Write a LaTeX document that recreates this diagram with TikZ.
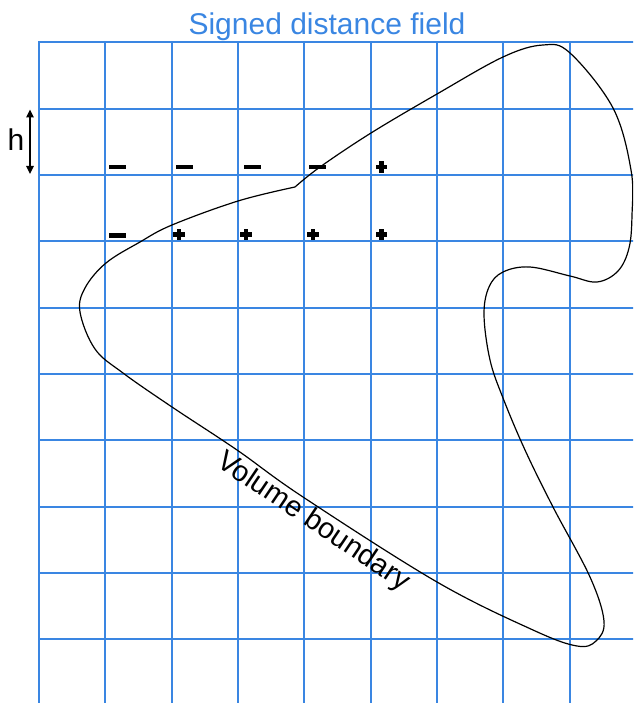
\documentclass[tikz,border=0pt]{standalone}
\usepackage{fontspec}
\setmainfont{Liberation Sans}
\usetikzlibrary{arrows.meta}
\definecolor{gridblue}{RGB}{58,134,226}
\begin{document}
\begin{tikzpicture}[x=1pt,y=-1pt,
  gridline/.style={gridblue,line width=2pt,line cap=rect},
  boundary/.style={black,line width=1.2pt},
  bigtext/.style={font=\fontsize{30}{36}\selectfont},
  minusmark/.pic={\fill (-8.5,-2.2) rectangle (8.5,2.2);},
  plusmark/.pic={\fill (-5.8,-2.2) rectangle (5.8,2.2); \fill (-2.2,-5.8) rectangle (2.2,5.8);},
  harrow/.style={{Triangle[width=7.5pt,length=8pt]}-{Triangle[width=7.5pt,length=8pt]}, line width=1.3pt}]
\useasboundingbox (0,0) rectangle (633,703);
\clip (0,0) rectangle (633,703);
% grid
\foreach \k in {0,...,9} {\draw[gridline] (39,{42.5+66.33*\k}) -- (640,{42.5+66.33*\k});}
\foreach \k in {0,...,8} {\draw[gridline] ({39+66.33*\k},42.5) -- ({39+66.33*\k},710);}
% boundary curve
\draw[boundary] plot[smooth, tension=0.6] coordinates {
 (295,187) (320,167) (371,133) (437,94) (503,57) (543,45)
 (570,53) (613,108) (631,170) (632,215) (629,248)
 (618,271) (597,282) (570,276) (530,267) (503,272) (489,287) (484,315)
 (490,360) (503,398) (525,450) (553,507) (590,577) (604,621)
 (596,641) (577,646) (533,630) (437,582) (303,497)
 (237,450) (172,407) (123,373) (95,349) (80,312) (85,288)
 (106,263) (140,242) (172,225) (238,201) (295,187)};
% title
\node[bigtext, text=gridblue, anchor=base] (title) at (327,34.5) {Signed distance field};
% h spacing
\node[bigtext, anchor=base] (h) at (16,150.7) {h};
\coordinate (htop) at (30,109.5);
\coordinate (hbot) at (30,174);
\draw[harrow] (htop) -- (hbot);
% signs
\foreach \x in {117.2,184.7,252.2,317.2} {\pic at (\x,167.2) {minusmark};}
\pic at (381.5,167.2) {plusmark};
\pic at (117.2,235.5) {minusmark};
\foreach \x in {179,246,313,381.5} {\pic at (\x,234.5) {plusmark};}
% label
\node[font=\fontsize{29}{34}\selectfont, rotate=-34] (vol) at (313,522) {Volume boundary};
\end{tikzpicture}
\end{document}
